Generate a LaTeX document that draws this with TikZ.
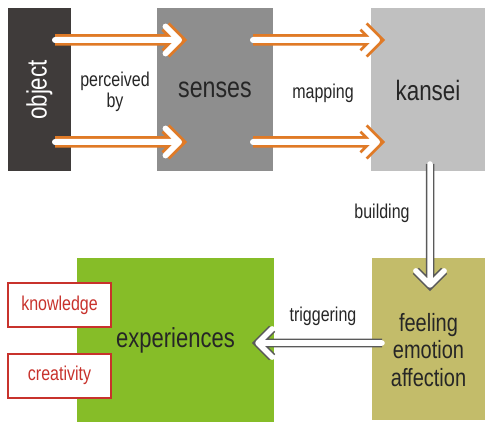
\documentclass[tikz,border=0pt]{standalone}
\usepackage{fontspec}
\setmainfont{Liberation Sans}[FakeStretch=0.8]
\usepackage{tikz}
\usetikzlibrary{calc}
\definecolor{objgray}{HTML}{3F3B3A}
\definecolor{sensegray}{HTML}{8E8E8E}
\definecolor{kanseigray}{HTML}{C0C0C0}
\definecolor{expgreen}{HTML}{86BD28}
\definecolor{feelolive}{HTML}{C3BC6A}
\definecolor{boxred}{HTML}{C8322C}
\definecolor{arroworange}{HTML}{E07A26}
\definecolor{arrowgray}{HTML}{5A5A5A}
\definecolor{inkgray}{HTML}{262626}
\tikzset{
	box/.style={rectangle,inner sep=0pt,outer sep=0pt,text=inkgray,font=\fontsize{28}{28}\selectfont},
	small box/.style={rectangle,draw=boxred,line width=2pt,fill=white,text=boxred,
		minimum width=103pt,minimum height=44pt,font=\fontsize{20}{22}\selectfont},
	word/.style={text=inkgray,font=\fontsize{20}{21}\selectfont,align=center},
	hollow/.style={line cap=round,line join=round,
		to path={-- (\tikztotarget) ($(\tikztotarget)!#1!45:(\tikztostart)$) -- (\tikztotarget) -- ($(\tikztotarget)!#1!-45:(\tikztostart)$)}},
	orange arrow/.style={hollow=19pt,draw=white,line width=6pt,preaction={draw=arroworange,line width=11.5pt}},
	gray arrow/.style={hollow=20pt,draw=white,line width=5.5pt,preaction={draw=arrowgray,line width=8.5pt}}
}

\begin{document}
\begin{tikzpicture}[x=1pt,y=-1pt]
	\useasboundingbox (0,0) rectangle (485,422);
	% the five blocks
	\node [box,fill=objgray,text=white,rotate=90,minimum width=163pt,minimum height=63pt] (1) at (39.5,90) {object};
	\node [box,fill=sensegray,minimum width=116pt,minimum height=163pt,font=\fontsize{29}{28}\selectfont] (2) at (215,90) {senses};
	\node [box,fill=kanseigray,minimum width=114pt,minimum height=163pt] (3) at (428,90) {kansei};
	\node [box,fill=feelolive,minimum width=113pt,minimum height=162pt] (4) at (428.5,339) {};
	\node [box,align=center,font=\fontsize{25}{27.5}\selectfont] at ([yshift=-11pt]4.center) {feeling\\emotion\\affection};
	\node [box,fill=expgreen,minimum width=197pt,minimum height=164pt,font=\fontsize{27.5}{28}\selectfont] (5) at (175.5,340) {experiences};
	\node [small box] (6) at (59.5,305) {knowledge};
	\node [small box] (7) at (59.5,375.5) {creativity};
	% arrow ends
	\coordinate (a1) at (55,40);
	\coordinate (b1) at (179,40);
	\coordinate (a2) at (55,142);
	\coordinate (b2) at (179,142);
	\coordinate (a3) at (253,40);
	\coordinate (b3) at (377,40);
	\coordinate (a4) at (253,142);
	\coordinate (b4) at (377,142);
	\coordinate (a5) at (430,164);
	\coordinate (b5) at (430,285);
	\coordinate (a6) at (382,343);
	\coordinate (b6) at (258,343);
	\draw [orange arrow] (a1) to (b1);
	\draw [orange arrow] (a2) to (b2);
	\draw [orange arrow] (a3) to (b3);
	\draw [orange arrow] (a4) to (b4);
	\draw [gray arrow] (a5) to (b5);
	\draw [gray arrow] (a6) to (b6);
	% labels on the arrows
	\node [word] (p) at (115,92) {perceived\\by};
	\node [word] (m) at (323,93) {mapping};
	\node [word] (b) at (382,213) {building};
	\node [word] (t) at (323,316) {triggering};
\end{tikzpicture}
\end{document}
